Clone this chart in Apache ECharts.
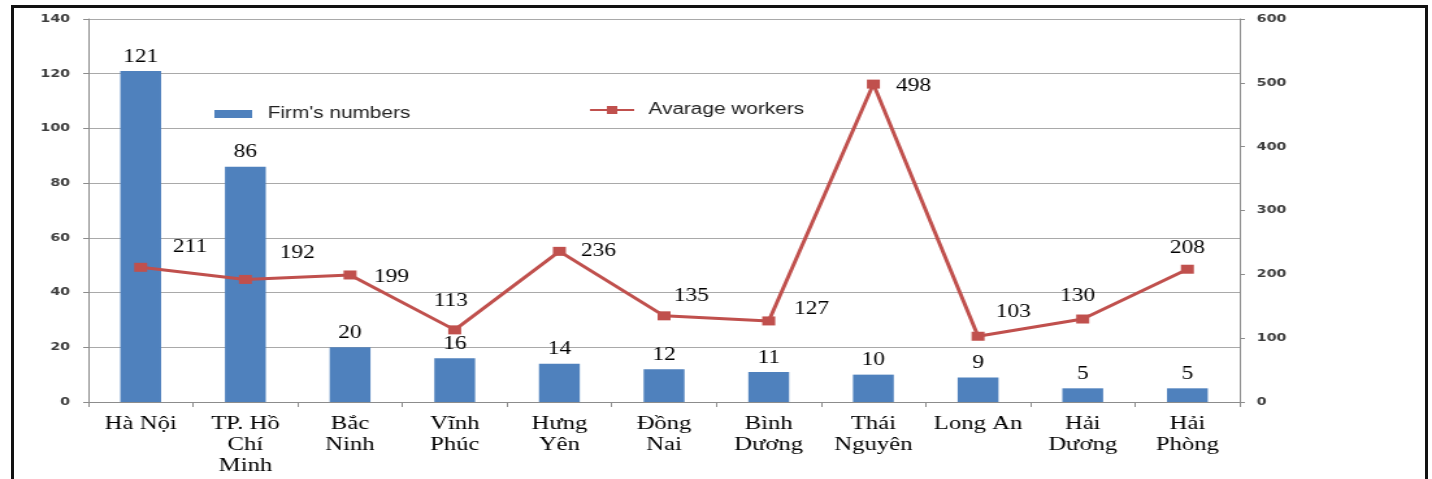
<!DOCTYPE html>
<html>
<head>
<meta charset="utf-8">
<script src="https://cdn.jsdelivr.net/npm/echarts@6/dist/echarts.min.js"></script>
<style>
  html, body { margin: 0; padding: 0; background: #fff; width: 1432px; height: 479px; overflow: hidden; }
  #frame { position: absolute; left: 11px; top: 5px; width: 1411px; height: 520px; border: 3px solid #111; }
  /* the source picture is stretched sideways, so the chart is drawn narrow and scaled in x */
  #chart { position: absolute; left: 0; top: 0; width: 1102px; height: 479px; transform: scaleX(1.2995); transform-origin: 0 0; }
</style>
</head>
<body>
<div id="frame"></div>
<div id="chart"></div>
<script>
const provinces = ['Hà Nội', 'TP. Hồ\nChí\nMinh', 'Bắc\nNinh', 'Vĩnh\nPhúc', 'Hưng\nYên', 'Đồng\nNai', 'Bình\nDương', 'Thái\nNguyên', 'Long An', 'Hải\nDương', 'Hải\nPhòng']
const firmNumbers = [121, 86, 20, 16, 14, 12, 11, 10, 9, 5, 5]
const averageWorkers = [211, 192, 199, 113, 236, 135, 127, 498, 103, 130, 208]
const leftTicks = { min: 0, max: 140, interval: 20 }
const rightTicks = { min: 0, max: 600, interval: 100 }

// where each worker label sits relative to its marker (unscaled px)
const workerLabelOffset = [[38, -20], [40, -26], [32, 2], [-3, -29], [30, 0], [21, -20], [33, -12], [31, 2], [27, -24], [-4, -23], [0, -21]]

const serif = 'Liberation Serif'
const barColor = '#4F81BD'
const lineColor = '#C0504D'
const axisGray = '#8c8c8c'

const chart = echarts.init(document.getElementById('chart'))
const option = {
  animation: false,
  grid: { left: 68, right: 148, top: 19, bottom: 77 },
  legend: [
    {
      data: ["Firm's numbers"],
      left: 160, top: 101,
      icon: 'rect', itemWidth: 29, itemHeight: 8,
      textStyle: { fontFamily: 'Liberation Sans', fontSize: 16, color: '#222', padding: [6, 0, 0, 7] },
    },
    {
      data: ['Avarage workers'],
      left: 448, top: 97,
      itemWidth: 34, itemHeight: 10,
      textStyle: { fontFamily: 'Liberation Sans', fontSize: 16, color: '#222', padding: [0, 0, 0, 6] },
    },
  ],
  xAxis: {
    type: 'category',
    data: provinces,
    axisLine: { lineStyle: { color: axisGray, width: 1 } },
    axisTick: { show: true, alignWithLabel: false, length: 5, lineStyle: { color: axisGray } },
    axisLabel: { interval: 0, margin: 12, fontFamily: serif, fontSize: 19, lineHeight: 21, color: '#000' },
  },
  yAxis: [
    {
      type: 'value', ...leftTicks,
      axisLine: { show: true, lineStyle: { color: axisGray } },
      axisTick: { show: true, length: 4, lineStyle: { color: axisGray } },
      axisLabel: { margin: 14, fontFamily: 'DejaVu Sans', fontSize: 11, fontWeight: 'bold', color: '#3d3d3d' },
      splitLine: { lineStyle: { color: '#a9a9a9', width: 1 } },
    },
    {
      type: 'value', ...rightTicks,
      axisLine: { show: true, lineStyle: { color: axisGray } },
      axisTick: { show: true, length: 4, lineStyle: { color: axisGray } },
      axisLabel: { margin: 13, fontFamily: 'DejaVu Sans', fontSize: 11, fontWeight: 'bold', color: '#3d3d3d' },
      splitLine: { show: false },
    },
  ],
  series: [
    {
      name: "Firm's numbers",
      type: 'bar',
      data: firmNumbers,
      barWidth: '39%',
      itemStyle: { color: barColor },
      label: { show: true, position: 'top', distance: 5, fontFamily: serif, fontSize: 18, color: '#000' },
    },
    {
      name: 'Avarage workers',
      type: 'line',
      yAxisIndex: 1,
      data: averageWorkers.map((v, i) => ({ value: v, label: { offset: workerLabelOffset[i] } })),
      symbol: 'rect',
      symbolSize: [10, 9],
      lineStyle: { color: lineColor, width: 3 },
      itemStyle: { color: lineColor },
      label: { show: true, position: 'inside', fontFamily: serif, fontSize: 18, color: '#000' },
    },
  ],
}
chart.setOption(option)
</script>
</body>
</html>
